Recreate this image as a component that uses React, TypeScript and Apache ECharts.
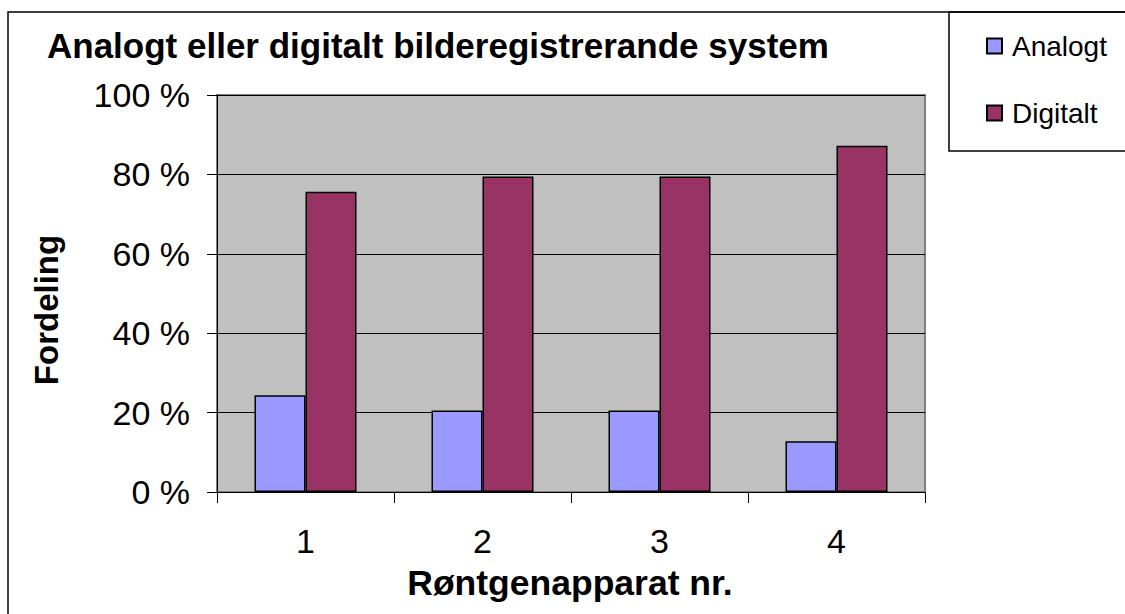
import React, { useEffect, useRef } from "react";
import * as echarts from "echarts";

const categories = ["1", "2", "3", "4"];
const analogt = [24.4, 20.5, 20.5, 12.8];
const digitalt = [75.6, 79.5, 79.5, 87.2];
const yTicks = [0, 20, 40, 60, 80, 100];

const FONT = "'Liberation Sans', Arial, sans-serif";

export default function App() {
  const ref = useRef<HTMLDivElement>(null);
  useEffect(() => {
    if (!ref.current) return;
    const chart = echarts.init(ref.current, null, { renderer: "svg" });
    chart.setOption({
      animation: false,
      backgroundColor: "#ffffff",
      textStyle: { fontFamily: FONT },
      title: {
        text: "Analogt eller digitalt bilderegistrerande system",
        left: 47,
        top: 28,
        padding: 0,
        textStyle: { fontFamily: FONT, fontSize: 35, fontWeight: "bold", color: "#000" },
      },
      legend: {
        orient: "vertical",
        left: 986,
        top: 32,
        padding: 0,
        itemGap: 39,
        itemWidth: 15,
        itemHeight: 15,
        icon: "rect",
        textStyle: { fontFamily: FONT, fontSize: 28, color: "#000", padding: [0, 0, 0, 5] },
        data: ["Analogt", "Digitalt"],
      },
      grid: {
        left: 217,
        top: 95,
        width: 708,
        height: 397,
        show: true,
        backgroundColor: "#C0C0C0",
        borderColor: "#808080",
        borderWidth: 2,
        containLabel: false,
      },
      xAxis: {
        type: "category",
        data: categories,
        axisLine: { show: true, lineStyle: { color: "#000", width: 1 } },
        axisTick: { show: true, length: 11, inside: false, lineStyle: { color: "#000" } },
        axisLabel: { fontFamily: FONT, fontSize: 34, color: "#000", margin: 32 },
      },
      yAxis: {
        type: "value",
        min: 0,
        max: 100,
        interval: 20,
        axisLine: { show: true, lineStyle: { color: "#000", width: 1 } },
        axisTick: { show: true, length: 10, lineStyle: { color: "#000" } },
        axisLabel: {
          fontFamily: FONT,
          fontSize: 34,
          color: "#000",
          margin: 27,
          formatter: (v: number) => (yTicks.includes(v) ? v + " %" : ""),
        },
        splitLine: { show: true, lineStyle: { color: "#000", width: 1 } },
      },
      series: [
        {
          name: "Analogt",
          type: "bar",
          data: analogt,
          barWidth: 51,
          barGap: "0%",
          itemStyle: { color: "#9999FF", borderColor: "#000", borderWidth: 1.5 },
        },
        {
          name: "Digitalt",
          type: "bar",
          data: digitalt,
          barWidth: 51,
          barGap: "0%",
          itemStyle: { color: "#993366", borderColor: "#000", borderWidth: 1.5 },
        },
      ],
      graphic: [
        {
          type: "polyline",
          shape: { points: [[8, 700], [8, 12], [1200, 12]] },
          style: { stroke: "#000", lineWidth: 1.5, fill: "none" },
          silent: true,
        },
        {
          type: "rect",
          shape: { x: 949, y: 12, width: 300, height: 139 },
          style: { stroke: "#000", lineWidth: 1.5, fill: "#fff" },
          z: -1,
          silent: true,
        },
        {
          type: "text",
          x: 570,
          y: 583,
          style: {
            text: "Røntgenapparat nr.",
            fontFamily: FONT,
            fontSize: 35.5,
            fontWeight: "bold",
            fill: "#000",
            align: "center",
            verticalAlign: "middle",
          },
        },
        {
          type: "text",
          x: 46,
          y: 310,
          rotation: Math.PI / 2,
          style: {
            text: "Fordeling",
            fontFamily: FONT,
            fontSize: 33,
            fontWeight: "bold",
            fill: "#000",
            align: "center",
            verticalAlign: "middle",
          },
        },
      ],
    });
    return () => chart.dispose();
  }, []);
  return (
    <div
      ref={ref}
      style={{ position: "fixed", left: 0, top: 0, width: 1125, height: 614 }}
    />
  );
}
